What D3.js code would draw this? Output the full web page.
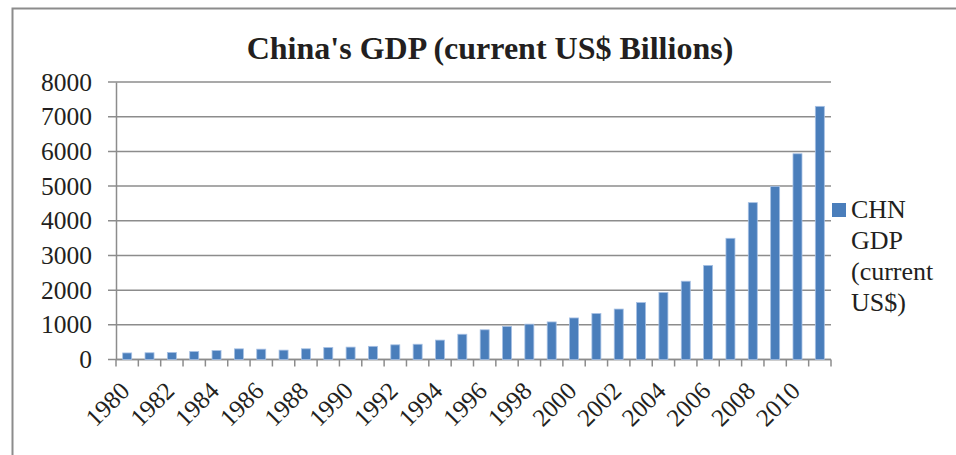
<!DOCTYPE html>
<html>
<head>
<meta charset="utf-8">
<script src="https://cdn.jsdelivr.net/npm/d3@7"></script>
<style>
  body { margin: 0; background: #fff; }
  text { font-family: "Liberation Serif", "Times New Roman", serif; fill: #231f20; }
</style>
</head>
<body>
<script>
// China's GDP bar chart, current US$ billions

// data
var years = d3.range(1980, 2012);
var gdp = [189, 194, 203, 228, 257, 307, 298, 270, 309, 344,
           357, 379, 423, 440, 559, 728, 856, 953, 1019, 1083,
           1198, 1325, 1454, 1641, 1932, 2257, 2713, 3494, 4522, 4991,
           5931, 7298];
var yTicks = [0, 1000, 2000, 3000, 4000, 5000, 6000, 7000, 8000];
var legendLines = ["CHN", "GDP", "(current", "US$)"];

var W = 956, H = 455;
var margin = {top: 82, left: 116, right: 125, bottom: 95.5};
var width = W - margin.left - margin.right;
var height = H - margin.top - margin.bottom;

var svg = d3.select("body").append("svg")
    .attr("width", W)
    .attr("height", H);

// outer frame
svg.append("rect")
    .attr("x", 12.5)
    .attr("y", 8.5)
    .attr("width", 1000)
    .attr("height", 1000)
    .attr("fill", "none")
    .attr("stroke", "#8c8c8c")
    .attr("stroke-width", 2);

// title
svg.append("text")
    .attr("x", 490)
    .attr("y", 59)
    .attr("text-anchor", "middle")
    .style("font-size", "32px")
    .style("font-weight", "bold")
    .text("China's GDP (current US$ Billions)");

var g = svg.append("g")
    .attr("transform", "translate(" + margin.left + "," + margin.top + ")");

var xScale = d3.scaleBand().domain(years).range([0, width]);
var yScale = d3.scaleLinear().domain([0, 8000]).range([height, 0]);

// gridlines
g.selectAll(".grid")
    .data(yTicks)
    .enter().append("line")
    .attr("class", "grid")
    .attr("x1", -8)
    .attr("x2", width)
    .attr("y1", function(d) { return yScale(d); })
    .attr("y2", function(d) { return yScale(d); })
    .attr("stroke", "#8c8c8c")
    .attr("stroke-width", 1.5);

// y axis
var yAxis = d3.axisLeft(yScale)
    .tickValues(yTicks)
    .tickFormat(d3.format("d"))
    .tickSize(0)
    .tickPadding(24);
var yG = g.append("g").call(yAxis);
yG.select(".domain").attr("stroke", "#8c8c8c").attr("stroke-width", 1.5);
yG.selectAll("text")
    .style("font-size", "25.5px")
    .style("font-family", "'Liberation Serif', serif")
    .attr("fill", "#231f20");

// x axis line and tick marks at band edges
g.append("line")
    .attr("x1", 0).attr("x2", width)
    .attr("y1", height).attr("y2", height)
    .attr("stroke", "#8c8c8c")
    .attr("stroke-width", 1.5);

var edges = years.map(function(y) { return xScale(y); }).concat([width]);
g.selectAll(".xtick")
    .data(edges)
    .enter().append("line")
    .attr("class", "xtick")
    .attr("x1", function(d) { return d; })
    .attr("x2", function(d) { return d; })
    .attr("y1", height)
    .attr("y2", height + 7)
    .attr("stroke", "#8c8c8c")
    .attr("stroke-width", 1.5);

// bars
var barW = 9;
g.selectAll(".bar")
    .data(years)
    .enter().append("rect")
    .attr("class", "bar")
    .attr("x", function(d) { return xScale(d) + xScale.bandwidth() / 2 - barW / 2; })
    .attr("y", function(d, i) { return yScale(gdp[i]); })
    .attr("width", barW)
    .attr("height", function(d, i) { return height - yScale(gdp[i]); })
    .attr("fill", "#4a7ebb")
    .attr("stroke", "#a6c0e4")
    .attr("stroke-width", 0.8);

// x labels, every other year, rotated
g.selectAll(".xlabel")
    .data(years.filter(function(d) { return (d - 1980) % 2 === 0; }))
    .enter().append("text")
    .attr("class", "xlabel")
    .attr("text-anchor", "end")
    .attr("transform", function(d) {
        var x = xScale(d) + xScale.bandwidth() / 2 + 4;
        return "translate(" + x + "," + (height + 33) + ") rotate(-45)";
    })
    .style("font-size", "25px")
    .text(function(d) { return d; });

// legend
svg.append("rect")
    .attr("x", 832)
    .attr("y", 203)
    .attr("width", 14)
    .attr("height", 14)
    .attr("fill", "#4a7ebb");

svg.selectAll(".legend")
    .data(legendLines)
    .enter().append("text")
    .attr("class", "legend")
    .attr("x", 851)
    .attr("y", function(d, i) { return 218 + i * 31; })
    .style("font-size", "26px")
    .text(function(d) { return d; });
</script>
</body>
</html>
